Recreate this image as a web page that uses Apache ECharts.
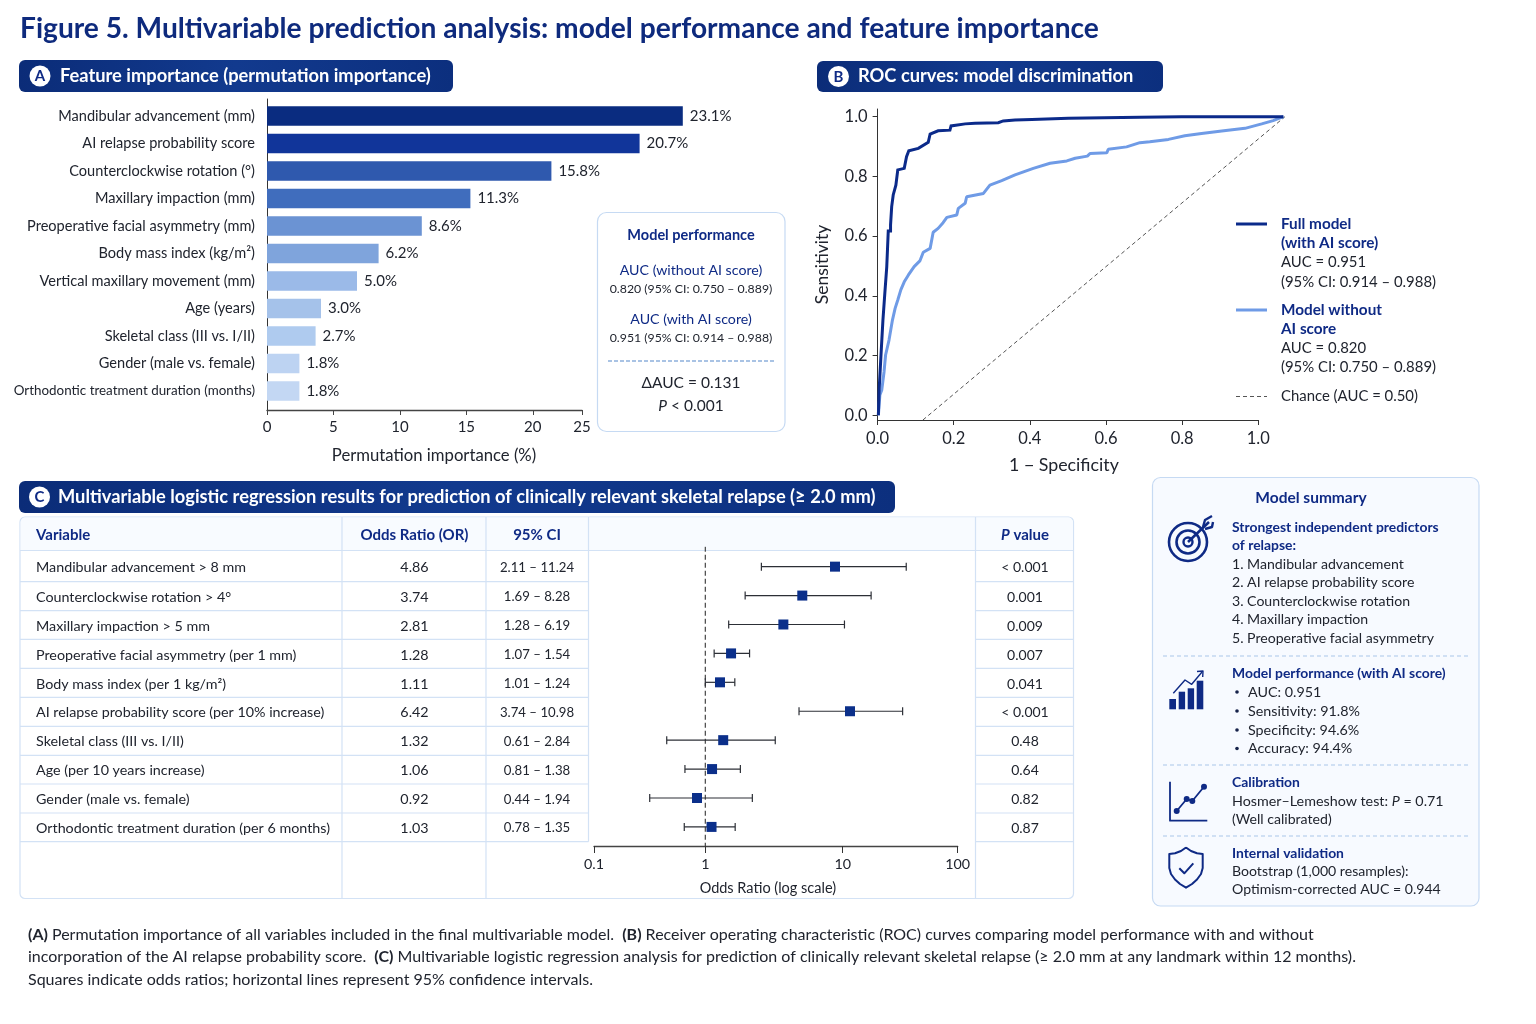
<!DOCTYPE html>
<html><head><meta charset="utf-8"><title>Figure 5</title>
<style>html,body{margin:0;padding:0;background:#fff}#c{width:1536px;height:1024px}</style>
<script src="https://cdn.jsdelivr.net/npm/echarts@6/dist/echarts.min.js"></script>
</head><body><div id="c"></div>
<script>
const FONT='Lato';
const NAVY='#0f2a85', INK='#20242e', RULE='#d3e2f5', BOX='#c6daf3';

// Panel A
const featureNames=['Mandibular advancement (mm)','AI relapse probability score','Counterclockwise rotation (°)','Maxillary impaction (mm)','Preoperative facial asymmetry (mm)','Body mass index (kg/m²)','Vertical maxillary movement (mm)','Age (years)','Skeletal class (III vs. I/II)','Gender (male vs. female)','Orthodontic treatment duration (months)'];
const featureImportance=[23.1,20.7,15.8,11.3,8.6,6.2,5.0,3.0,2.7,1.8,1.8];
const featureColors=['#0a2c80','#11359a','#2f59ae','#406dbd','#6b93d3','#7fa4dc','#9bbae8','#a5c2ea','#afcbef','#bdd3f2','#c3d7f3'];
const importanceTickAt=[0,5,10,15,20,23.7];
const importanceTickLabels=['0','5','10','15','20','25'];

// Panel B
const rocFullX=[0.002,0.004,0.009,0.009,0.012,0.014,0.019,0.019,0.024,0.024,0.028,0.028,0.034,0.034,0.037,0.041,0.048,0.053,0.070,0.076,0.082,0.107,0.133,0.138,0.159,0.190,0.193,0.230,0.256,0.317,0.330,0.361,0.405,0.501,0.689,0.799,1.066];
const rocFullY=[0,0.085,0.085,0.204,0.204,0.319,0.319,0.409,0.409,0.496,0.496,0.617,0.617,0.637,0.699,0.738,0.771,0.822,0.827,0.866,0.886,0.894,0.914,0.942,0.953,0.955,0.969,0.976,0.978,0.980,0.986,0.989,0.991,0.995,0.998,1.0,1.0];
const rocBaseX=[0.002,0.006,0.011,0.017,0.021,0.030,0.039,0.046,0.053,0.061,0.070,0.081,0.096,0.111,0.120,0.138,0.146,0.159,0.172,0.182,0.208,0.212,0.230,0.234,0.278,0.295,0.326,0.361,0.409,0.453,0.497,0.519,0.551,0.558,0.602,0.606,0.654,0.689,0.715,0.764,0.807,0.851,0.904,0.965,1.009,1.039,1.066];
const rocBaseY=[0,0.068,0.085,0.146,0.202,0.252,0.319,0.358,0.386,0.420,0.447,0.470,0.498,0.517,0.546,0.559,0.613,0.626,0.645,0.663,0.671,0.693,0.710,0.732,0.743,0.771,0.786,0.805,0.827,0.844,0.852,0.861,0.868,0.877,0.879,0.891,0.899,0.913,0.916,0.924,0.936,0.944,0.952,0.961,0.976,0.987,1.0];
const chanceX=[0.119,1.07];
const chanceY=[-0.0157,1.0];
const rocTicks=[0,0.2,0.4,0.6,0.8,1.0];

// Panel C
const tableVariables=['Mandibular advancement > 8 mm','Counterclockwise rotation > 4°','Maxillary impaction > 5 mm','Preoperative facial asymmetry (per 1 mm)','Body mass index (per 1 kg/m²)','AI relapse probability score (per 10% increase)','Skeletal class (III vs. I/II)','Age (per 10 years increase)','Gender (male vs. female)','Orthodontic treatment duration (per 6 months)'];
const tableOR=['4.86','3.74','2.81','1.28','1.11','6.42','1.32','1.06','0.92','1.03'];
const tableCI=['2.11 – 11.24','1.69 – 8.28','1.28 – 6.19','1.07 – 1.54','1.01 – 1.24','3.74 – 10.98','0.61 – 2.84','0.81 – 1.38','0.44 – 1.94','0.78 – 1.35'];
const tableP=['< 0.001','0.001','0.009','0.007','0.041','< 0.001','0.48','0.64','0.82','0.87'];
const forestMid=[8.79,5.08,3.70,1.54,1.28,11.3,1.35,1.12,0.87,1.11];
const forestLow=[2.56,1.95,1.48,1.16,1.00,4.81,0.524,0.711,0.394,0.703];
const forestHigh=[29.0,16.1,10.3,2.10,1.64,27.3,3.23,1.80,2.20,1.65];
const forestTickAt=[0.1549,1,10,68.7];
const forestTickLabels=['0.1','1','10','100'];

const G=[];
function T(x,y,text,o){o=o||{};G.push({type:'text',x:x,y:y,silent:true,z:o.z||5,style:{text:text,fontFamily:FONT,fontSize:o.s||14,fontWeight:o.w||400,fontStyle:o.i?'italic':'normal',fill:o.c||INK,align:o.a||'left',verticalAlign:'middle',rich:o.rich}});}
function R(x,y,w,h,r,fill,stroke,lw){G.push({type:'rect',silent:true,z:1,shape:{x:x,y:y,width:w,height:h,r:r||0},style:{fill:fill||'transparent',stroke:stroke||null,lineWidth:lw||1}});}
function L(x1,y1,x2,y2,c,lw,dash){G.push({type:'line',silent:true,z:2,shape:{x1:x1,y1:y1,x2:x2,y2:y2},style:{stroke:c,lineWidth:lw||1,lineDash:dash||null}});}
function P(pts,c,lw){G.push({type:'polyline',silent:true,z:3,shape:{points:pts},style:{stroke:c,lineWidth:lw||2,fill:null,lineJoin:'round'}});}
function C(x,y,r,fill,stroke,lw){G.push({type:'circle',silent:true,z:3,shape:{cx:x,cy:y,r:r},style:{fill:fill||'transparent',stroke:stroke||null,lineWidth:lw||1}});}
function pill(x,y,w,h,letter,cx,tx,text,s){
  G.push({type:'rect',silent:true,z:1,shape:{x:x,y:y,width:w,height:h,r:6},style:{fill:{type:'linear',x:0,y:0,x2:1,y2:0,colorStops:[{offset:0,color:'#0b2c78'},{offset:.5,color:'#123a8e'},{offset:1,color:'#0c2f7e'}]}}});
  C(cx,y+h/2,10.5,'#fff');
  T(cx,y+h/2+.5,letter,{s:15,w:700,c:NAVY,a:'center'});
  T(tx,y+h/2,text,{s:s||18.3,w:700,c:'#fff'});
}

T(20,29,'Figure 5. Multivariable prediction analysis: model performance and feature importance',{s:28.15,w:700,c:'#0e2a7d'});
pill(19,60,434,32,'A',40,60,'Feature importance (permutation importance)');
pill(817,61,346,31,'B',838.5,858,'ROC curves: model discrimination');
pill(19,481,876,32,'C',39.5,58,'Multivariable logistic regression results for prediction of clinically relevant skeletal relapse (≥ 2.0 mm)');

// Panel A inset
R(597.5,212.5,187.5,219,9,'#fff',BOX,1.2);
T(691,235,'Model performance',{s:14.5,w:700,c:NAVY,a:'center'});
T(691,270,'AUC (without AI score)',{s:14.2,c:NAVY,a:'center'});
T(691,289,'0.820 (95% CI: 0.750 – 0.889)',{s:12.3,a:'center'});
T(691,319,'AUC (with AI score)',{s:14.2,c:NAVY,a:'center'});
T(691,338,'0.951 (95% CI: 0.914 – 0.988)',{s:12.3,a:'center'});
L(608,361,775,361,'#8db0dc',1.3,[4,2]);
T(691,383,'ΔAUC = 0.131',{s:15.5,a:'center'});
T(691,406,'{i|P} < 0.001',{s:15.5,a:'center',rich:{i:{fontStyle:'italic',fontSize:15.5,fontFamily:FONT,fill:INK}}});

// Panel B legend
L(1236,224,1267,224,'#0b2a8a',3);
L(1236,310,1267,310,'#6f9be6',3);
L(1236,396.5,1267,396.5,'#555',1,[4,3]);
[['Full model',224,1],['(with AI score)',243,1],['AUC = 0.951',262.5,0],['(95% CI: 0.914 – 0.988)',282,0],['Model without',310,1],['AI score',329,1],['AUC = 0.820',348.5,0],['(95% CI: 0.750 – 0.889)',367.5,0],['Chance (AUC = 0.50)',396.5,0]].forEach(r=>T(1281,r[1],r[0],{s:r[2]?15.3:14.9,w:r[2]?700:400,c:r[2]?NAVY:INK}));

// Table frame
const headerTop=517,headerBot=550.5,tableBot=898.5;
const rowLines=[581.7,610.7,639.3,668.3,697.3,726.3,755.3,784,813,841.7];
const rowText=[567.8,597,626,655,684,712.8,741.8,770.5,799.3,828];
R(20,517,1053.5,381.5,5,'#fff',RULE,1.2);
G.push({type:'rect',silent:true,z:1,shape:{x:20.6,y:517.6,width:1052.3,height:33,r:[5,5,0,0]},style:{fill:'#f8fbff'}});
L(20,headerBot,1073.5,headerBot,RULE,1.2);
L(342,517,342,tableBot,RULE,1.2);L(486,517,486,tableBot,RULE,1.2);L(588.5,517,588.5,841.7,RULE,1.2);L(975.5,517,975.5,tableBot,RULE,1.2);
rowLines.forEach(y=>{L(20,y,588.5,y,RULE,1.2);L(975.5,y,1073.5,y,RULE,1.2);});
T(36,535,'Variable',{s:15,w:700,c:NAVY});
T(414.5,535,'Odds Ratio (OR)',{s:15,w:700,c:NAVY,a:'center'});
T(537,535,'95% CI',{s:15,w:700,c:NAVY,a:'center'});
T(1025,535,'{i|P} value',{s:15,w:700,c:NAVY,a:'center',rich:{i:{fontStyle:'italic',fontWeight:700,fontSize:15,fontFamily:FONT,fill:NAVY}}});
tableVariables.forEach((v,i)=>{
  const y=rowText[i];
  T(36,y,v,{s:14.3});T(414.5,y,tableOR[i],{s:14.3,a:'center'});T(537,y,tableCI[i],{s:13.2,a:'center'});T(1025,y,tableP[i],{s:14,a:'center'});
});

// Model summary
R(1152.5,477.5,326.5,428.5,8,'#f7faff',BOX,1.2);
T(1311,498,'Model summary',{s:15.5,w:700,c:NAVY,a:'center'});
const SX=1232;
[['Strongest independent predictors',527.5,1],['of relapse:',546,1],['1. Mandibular advancement',564,0],['2. AI relapse probability score',582.5,0],['3. Counterclockwise rotation',601,0],['4. Maxillary impaction',619.5,0],['5. Preoperative facial asymmetry',638,0],['Model performance (with AI score)',673.5,1],['Calibration',782.5,1],['(Well calibrated)',819,0],['Internal validation',853.5,1],['Bootstrap (1,000 resamples):',871.5,0],['Optimism-corrected AUC = 0.944',889.5,0]].forEach(r=>T(SX,r[1],r[0],{s:r[2]?13.9:14.1,w:r[2]?700:400,c:r[2]?NAVY:INK}));
T(SX,801,'Hosmer–Lemeshow test: {i|P} = 0.71',{s:14.3,rich:{i:{fontStyle:'italic',fontSize:14.3,fontFamily:FONT,fill:INK}}});
[['AUC: 0.951',692],['Sensitivity: 91.8%',711],['Specificity: 94.6%',730],['Accuracy: 94.4%',748.5]].forEach(r=>{C(1237,r[1],1.8,'#16224a');T(1248,r[1],r[0],{s:14.3});});
[656,765,836].forEach(y=>L(1163,y,1469,y,'#a9c6ea',1.2,[4,3]));
// icons
C(1188,542,19,null,NAVY,2.6);C(1188,542,11.5,null,NAVY,2.6);C(1188,542,4.5,null,NAVY,2.4);
P([[1188,542],[1209,522]],NAVY,2.6);P([[1203,527],[1205,520],[1212,516]],NAVY,2.4);P([[1205,529],[1212,527],[1213,522]],NAVY,2.4);
[[1169.3,699,6.7],[1178.7,691.7,6.4],[1187.7,688.3,6.4],[1196.7,680.7,6.6]].forEach(b=>R(b[0],b[1],b[2],709.3-b[1],0,NAVY));
P([[1173.3,693.3],[1185,680],[1191.7,684.3],[1202,672]],NAVY,1.4);P([[1197,671.5],[1203,671],[1202.7,677]],NAVY,1.4);
P([[1170,781.7],[1170,820.7],[1207.3,820.7]],NAVY,1.8);
P([[1176.7,811],[1186.7,799],[1192.3,801],[1204,786.7]],NAVY,1.8);
[[1176.7,811],[1186.7,799],[1192.3,801],[1204,786.7]].forEach(p=>C(p[0],p[1],3,NAVY));
P([[1186,847.5],[1191,851],[1197,853.3],[1202.7,854],[1202.7,868],[1201,874],[1197,879.5],[1192,884],[1186,887.7],[1180,884],[1175,879.5],[1171,874],[1169.3,868],[1169.3,854],[1175,853.3],[1181,851],[1186,847.5]],NAVY,2);
P([[1179.3,868.3],[1184.3,873.3],[1193.3,863.3]],NAVY,2);

// Footnote
const fr={b:{fontWeight:700,fontSize:16,fontFamily:FONT,fill:INK}};
T(28,935,'{b|(A)} Permutation importance of all variables included in the final multivariable model.  {b|(B)} Receiver operating characteristic (ROC) curves comparing model performance with and without',{s:16,rich:fr});
T(28,957,'incorporation of the AI relapse probability score.  {b|(C)} Multivariable logistic regression analysis for prediction of clinically relevant skeletal relapse (≥ 2.0 mm at any landmark within 12 months).',{s:16,rich:fr});
T(28,980,'Squares indicate odds ratios; horizontal lines represent 95% confidence intervals.',{s:16});

const axisTxt=s=>({color:INK,fontFamily:FONT,fontSize:s});
const lastLabelIdx=featureNames.length-1;
const option={
  animation:false,backgroundColor:'#fff',textStyle:{fontFamily:FONT},
  grid:[
    {left:267,top:102.25,width:450,height:302.5,outerBoundsMode:'none'},
    {left:267,top:99,width:315,height:311,outerBoundsMode:'none'},
    {left:877.6,top:109,width:380.7,height:311,outerBoundsMode:'none'},
    {left:594,top:546.7,width:363.7,height:299.3,outerBoundsMode:'none'},
    {left:877.6,top:109,width:407.6,height:311,outerBoundsMode:'none'}
  ],
  xAxis:[
    {gridIndex:0,type:'value',min:0,max:25,show:false},
    {gridIndex:1,type:'value',min:0,max:23.7,name:'Permutation importance (%)',nameLocation:'middle',nameGap:37,nameMoveOverlap:false,nameTextStyle:Object.assign(axisTxt(16.7),{padding:[0,0,0,19]}),
      axisLine:{lineStyle:{color:'#444',width:1.4}},splitLine:{show:false},
      axisTick:{length:5,lineStyle:{color:'#444'},customValues:importanceTickAt},
      axisLabel:Object.assign(axisTxt(15),{margin:10,customValues:importanceTickAt,formatter:v=>importanceTickLabels[importanceTickAt.indexOf(v)]})},
    {gridIndex:2,type:'value',min:0,max:1,name:'1 − Specificity',nameLocation:'middle',nameGap:36,nameMoveOverlap:false,nameTextStyle:Object.assign(axisTxt(17.8),{padding:[0,8,0,0]}),
      axisLine:{onZero:false,lineStyle:{color:'#333'}},splitLine:{show:false},
      axisTick:{length:5,lineStyle:{color:'#333'},customValues:rocTicks},
      axisLabel:Object.assign(axisTxt(16.5),{margin:10,customValues:rocTicks,formatter:v=>v.toFixed(1)})},
    {gridIndex:3,type:'log',logBase:10,z:10,min:forestTickAt[0],max:forestTickAt[3],name:'Odds Ratio (log scale)',nameLocation:'middle',nameGap:35,nameMoveOverlap:false,nameTextStyle:Object.assign(axisTxt(14.5),{padding:[0,16,0,0]}),
      axisLine:{onZero:false,lineStyle:{color:'#444',width:1.3}},splitLine:{show:false},minorTick:{show:false},
      axisTick:{length:7,lineStyle:{color:'#333'},customValues:forestTickAt},
      axisLabel:Object.assign(axisTxt(14.3),{margin:11,customValues:forestTickAt,formatter:v=>forestTickLabels[forestTickAt.indexOf(v)]})},
    {gridIndex:4,type:'value',min:0,max:1.0707,show:false}
  ],
  yAxis:[
    {gridIndex:0,type:'category',inverse:true,data:featureNames.map((n,i)=>i===lastLabelIdx?{value:n,textStyle:{fontSize:13.4}}:n),axisLine:{show:false},axisTick:{show:false},axisLabel:Object.assign(axisTxt(14.55),{margin:12})},
    {gridIndex:1,type:'value',min:0,max:1,axisLine:{show:true,lineStyle:{color:'#333'}},axisTick:{show:false},axisLabel:{show:false},splitLine:{show:false}},
    {gridIndex:2,type:'value',min:-0.0157,max:1.0258,name:'Sensitivity',nameLocation:'middle',nameGap:46,nameMoveOverlap:false,nameTextStyle:axisTxt(17.5),
      axisLine:{show:true,onZero:false,lineStyle:{color:'#333'}},splitLine:{show:false},
      axisTick:{show:true,length:5,lineStyle:{color:'#333'},customValues:rocTicks},
      axisLabel:Object.assign(axisTxt(16.5),{margin:10,customValues:rocTicks,formatter:v=>v.toFixed(1)})},
    {gridIndex:3,type:'value',inverse:true,min:-0.69,max:9.66,show:false},
    {gridIndex:4,type:'value',min:-0.0157,max:1.0258,show:false}
  ],
  series:[
    {type:'bar',xAxisIndex:0,yAxisIndex:0,barWidth:19.5,z:3,
      data:featureImportance.map((v,i)=>({value:v,itemStyle:{color:featureColors[i]}})),
      label:{show:true,position:'right',distance:7,formatter:p=>p.value.toFixed(1)+'%',color:INK,fontFamily:FONT,fontSize:15}},
    {type:'line',name:'Chance',xAxisIndex:4,yAxisIndex:4,clip:false,showSymbol:false,silent:true,z:2,data:chanceX.map((x,i)=>[x,chanceY[i]]),lineStyle:{color:'#555',width:1,type:[4,3]}},
    {type:'line',name:'Model without AI score',xAxisIndex:4,yAxisIndex:4,clip:false,showSymbol:false,silent:true,z:3,data:rocBaseX.map((x,i)=>[x,rocBaseY[i]]),lineStyle:{color:'#6f9be6',width:3}},
    {type:'line',name:'Full model',xAxisIndex:4,yAxisIndex:4,clip:false,showSymbol:false,silent:true,z:4,data:rocFullX.map((x,i)=>[x,rocFullY[i]]),lineStyle:{color:'#0b2a8a',width:3,join:'miter'}},
    {type:'line',name:'OR = 1',xAxisIndex:3,yAxisIndex:3,showSymbol:false,silent:true,z:2,data:[[1,-0.69],[1,9.66]],lineStyle:{color:'#333',width:1.1,type:[5,3]}},
    {type:'custom',xAxisIndex:3,yAxisIndex:3,z:3,silent:true,data:forestMid.map((m,i)=>[forestLow[i],i,forestHigh[i]]),
      renderItem:(p,api)=>{
        const a=api.coord([api.value(0),api.value(1)]),b=api.coord([api.value(2),api.value(1)]);
        const st={stroke:'#2c2f36',lineWidth:1.2},h=4;
        return {type:'group',children:[
          {type:'line',shape:{x1:a[0],y1:a[1],x2:b[0],y2:b[1]},style:st},
          {type:'line',shape:{x1:a[0],y1:a[1]-h,x2:a[0],y2:a[1]+h},style:st},
          {type:'line',shape:{x1:b[0],y1:b[1]-h,x2:b[0],y2:b[1]+h},style:st}]};
      },encode:{x:[0,2],y:1}},
    {type:'scatter',xAxisIndex:3,yAxisIndex:3,z:4,silent:true,symbol:'rect',symbolSize:10,itemStyle:{color:'#0b2f8a',opacity:1},data:forestMid.map((m,i)=>[m,i])}
  ],
  graphic:{elements:G}
};
const chart=echarts.init(document.getElementById('c'),null,{renderer:'canvas',width:1536,height:1024});
chart.setOption(option);
</script></body></html>
